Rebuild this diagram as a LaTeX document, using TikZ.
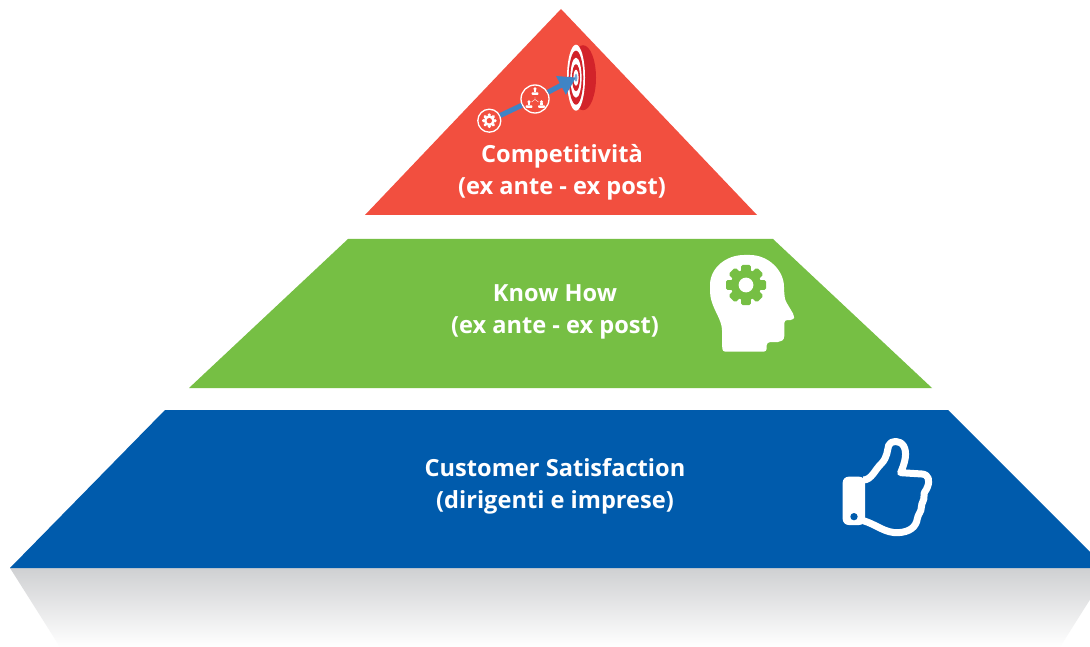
\documentclass[tikz,border=0pt]{standalone}
\usepackage{fontspec}
\setmainfont{Open Sans}
\usetikzlibrary{arrows.meta, calc, positioning, shapes.geometric}
\definecolor{topred}{HTML}{F24F3F}
\definecolor{darkred}{HTML}{D2232A}
\definecolor{midgreen}{HTML}{76BF44}
\definecolor{basisblue}{HTML}{005BAC}
\definecolor{arrowblue}{HTML}{3F84C5}
\definecolor{shadowgray}{HTML}{CFD0D2}
\tikzset{
  tierlabel/.style={text=white, align=center, font=\fontsize{23.6}{32}\selectfont\bfseries},
  badge/.style={draw=white, circle, line width=1.3pt, inner sep=0pt},
  toothfill/.style={rounded corners=1.5pt},
}
% gear: x, y, size, body colour, hole colour
\newcommand{\gearicon}[5]{
  \fill[#4] (#1,#2) circle ({0.76*#3});
  \foreach \a in {0,45,...,315}
    \fill[#4, shift={(#1,#2)}, rotate=\a, toothfill] ({-0.24*#3},{0.6*#3}) rectangle ({0.24*#3},{1.0*#3});
  \fill[#5] (#1,#2) circle ({0.37*#3});
}
% small person: x, y
\newcommand{\personicon}[2]{
  \fill[white] (#1,#2-2.6) circle (1.7);
  \fill[white, rounded corners=0.8pt] (#1-3.4,#2+3.4) -- (#1-3.4,#2+0.8) -- (#1+3.4,#2+0.8) -- (#1+3.4,#2+3.4) -- cycle;
  \fill[white] (#1-1.1,#2-1.4) rectangle (#1+1.1,#2+1);
}
\begin{document}
\begin{tikzpicture}[x=1pt, y=-1pt, >=Triangle]
\clip (0,0) rectangle (1090,647);
\fill[white] (0,0) rectangle (1090,647);

% Shadow and tiers
\shade[top color=shadowgray, bottom color=white] (10,568) -- (1110,568) -- (1060,647) -- (60,647) -- cycle;
\fill[topred] (561,9) -- (757,215) -- (365,215) -- cycle;
\fill[midgreen] (348,239) -- (773,239) -- (932,388) -- (189,388) -- cycle;
\fill[basisblue] (165,410) -- (948,410) -- (1106,568) -- (10,568) -- cycle;

% Labels
\node[tierlabel] (top) at (562,172.5) {Competitività\\(ex ante - ex post)};
\node[tierlabel] (middle) at (555,311.5) {Know How\\(ex ante - ex post)};
\node[tierlabel] (bottom) at (555,486) {Customer Satisfaction\\(dirigenti e imprese)};

% Target
\fill[darkred] (583,77.7) ellipse (13 and 32.5);
\fill[white] (576,77.7) ellipse (9 and 33);
\fill[darkred] (576,77.7) ellipse (7.3 and 27);
\fill[white] (576,77.7) ellipse (5.6 and 20);
\fill[darkred] (576,77.7) ellipse (4 and 13.5);
\fill[white] (576,77.7) ellipse (2.6 and 8);
\fill[arrowblue!70!white] (576,77.7) ellipse (1.4 and 4);

% Path to target
\node[badge, minimum size=23pt] (gearbadge) at (489.3,120.7) {};
\node[badge, minimum size=28pt] (peoplebadge) at (535,99) {};
\coordinate (bullseye) at (576,77.5);
\draw[arrowblue, line width=5pt] (gearbadge) -- (peoplebadge);
\draw[arrowblue, line width=5pt, -{Triangle[length=17pt, width=20pt]}] (peoplebadge) -- (bullseye);
\gearicon{489.3}{120.7}{7.3}{white}{topred}
\personicon{535}{91.5}
\personicon{529}{104.5}
\personicon{541.5}{104.5}
\draw[white, line width=0.4pt] (535,97) -- (535,99.5) (535,99.5) -- (531.5,102) (535,99.5) -- (538.5,102);

% Head
\fill[white, rounded corners=3pt] (722.3,351.7) -- (722,328) .. controls (719,315) and (710,305) .. (710,288)
  .. controls (710,268) and (726,255) .. (747,255) .. controls (768,255) and (784,270) .. (784,290)
  -- (785,300) -- (794.5,316) -- (793.5,320) -- (784.3,320) -- (784.3,333)
  .. controls (784.3,340) and (781,342) .. (775,342) -- (766.7,342.3) -- (766.7,351.7) -- cycle;
\gearicon{746}{285}{20}{midgreen}{white}

% Thumb
\begin{scope}[shift={(830,430)}, scale=1/3]
\fill[white, rounded corners=6pt] (38,140) -- (105,140) -- (105,285) -- (38,285) -- cycle;
\fill[basisblue] (72,260) circle (11);
\draw[white, line width=7pt, line join=round]
  (100,150) .. controls (125,150) and (135,118) .. (155,100)
  .. controls (172,82) and (172,60) .. (176,46)
  .. controls (183,30) and (210,30) .. (221,48)
  .. controls (232,68) and (226,95) .. (212,128)
  -- (276,132) .. controls (297,134) and (300,152) .. (292,172)
  .. controls (288,184) and (280,186) .. (282,198)
  .. controls (284,210) and (274,218) .. (274,232)
  .. controls (274,246) and (264,252) .. (262,266)
  .. controls (258,292) and (238,306) .. (205,308)
  .. controls (165,310) and (140,284) .. (100,272);
\end{scope}
\end{tikzpicture}
\end{document}
